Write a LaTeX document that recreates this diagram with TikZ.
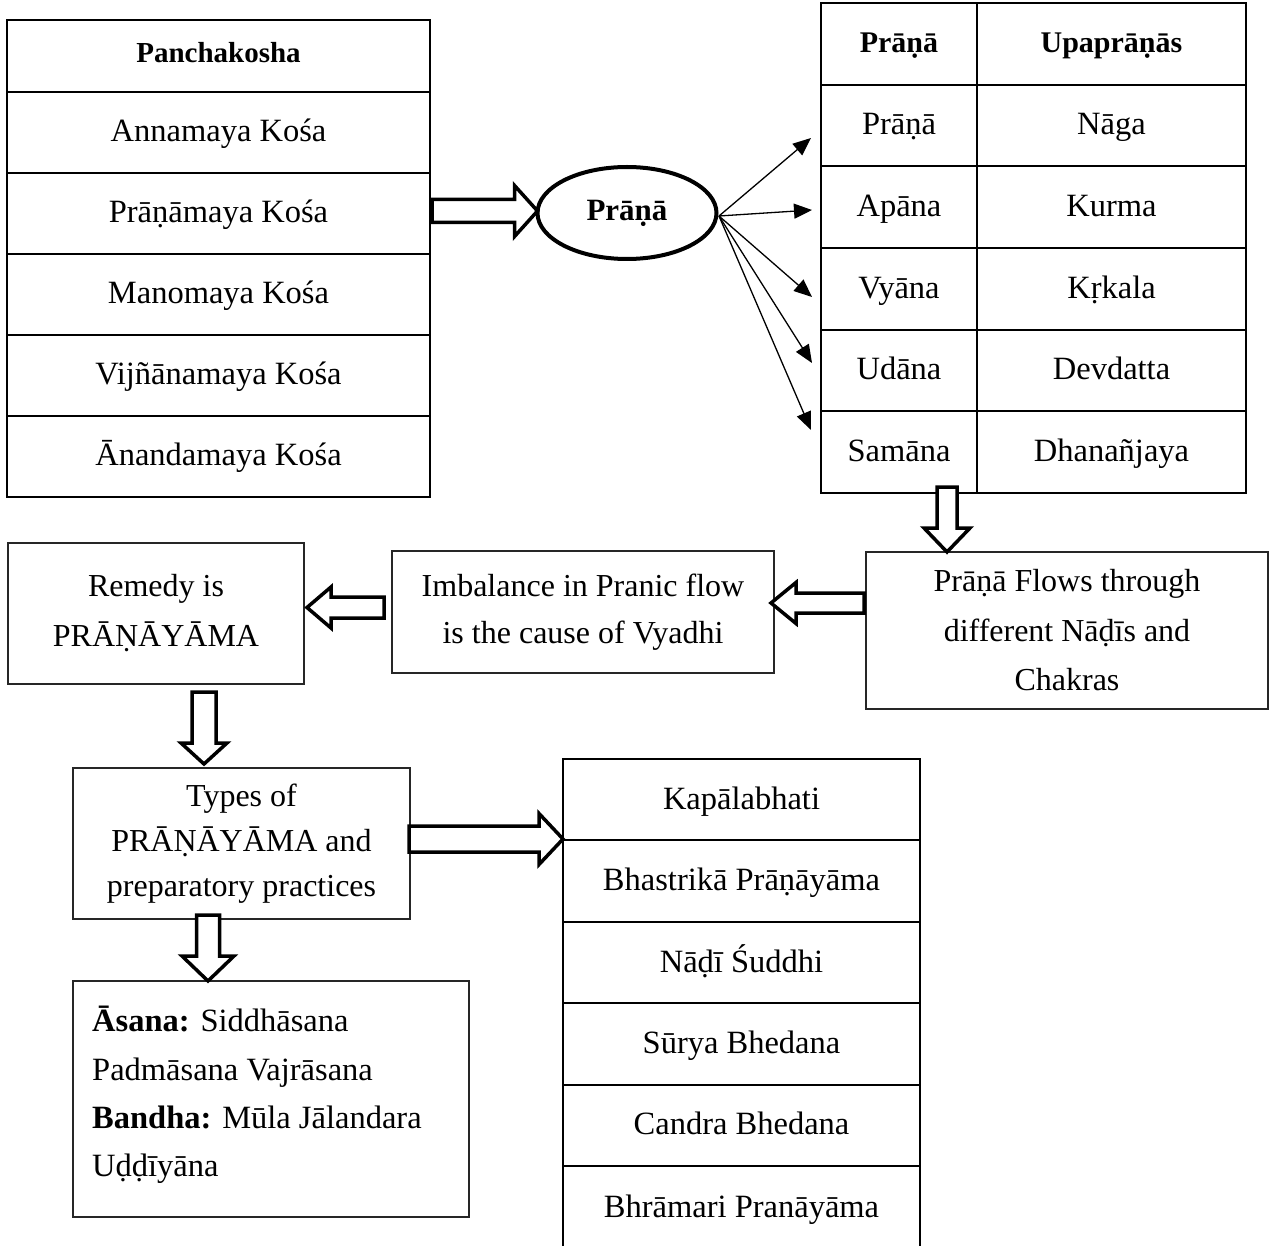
\documentclass[tikz,border=0pt]{standalone}
\usepackage{fontspec}
\setmainfont{Liberation Serif}
\usetikzlibrary{calc,arrows.meta,shapes.geometric}
\newcommand\palf{\fontsize{32.5}{38}\selectfont}
\newcommand\hdrf{\fontsize{30}{36}\selectfont\bfseries}
% block arrows: #1 tail, #2 tip, #3 shaft half width, #4 head half width, #5 head length
\newcommand\blockR[5]{\draw[blk] ($(#1)+(0,-#3)$) -- ($(#2)+(-#5,-#3)$) -- ($(#2)+(-#5,-#4)$) -- (#2) -- ($(#2)+(-#5,#4)$) -- ($(#2)+(-#5,#3)$) -- ($(#1)+(0,#3)$) -- cycle;}
\newcommand\blockL[5]{\draw[blk] ($(#1)+(0,-#3)$) -- ($(#2)+(#5,-#3)$) -- ($(#2)+(#5,-#4)$) -- (#2) -- ($(#2)+(#5,#4)$) -- ($(#2)+(#5,#3)$) -- ($(#1)+(0,#3)$) -- cycle;}
\newcommand\blockD[5]{\draw[blk] ($(#1)+(-#3,0)$) -- ($(#2)+(-#3,-#5)$) -- ($(#2)+(-#4,-#5)$) -- (#2) -- ($(#2)+(#4,-#5)$) -- ($(#2)+(#3,-#5)$) -- ($(#1)+(#3,0)$) -- cycle;}
\begin{document}
\begin{tikzpicture}[x=1pt,y=-1pt,
  tbl/.style={draw, line width=2pt, inner sep=0pt, outer sep=0pt, font=\palf, text height=26pt, text depth=7pt},
  box/.style={draw=black!85, line width=1.2pt, inner sep=0pt, outer sep=0pt, align=center},
  blk/.style={draw, line width=3.5pt, fill=white, line join=miter, miter limit=10},
  fan/.style={line width=1.3pt, -{Triangle[length=18pt,width=15pt]}},
  pkcell/.style={tbl, minimum width=423pt, minimum height=81pt},
  lcell/.style={tbl, minimum width=156pt, minimum height=81.67pt},
  rcell/.style={tbl, minimum width=269pt, minimum height=81.67pt},
  bcell/.style={tbl, minimum width=357pt, minimum height=81.4pt},
  hdr/.style={font=\hdrf, text height=24pt, text depth=6pt}]
\useasboundingbox (0,0) rectangle (1283,1246);

% Panchakosha table
\node[tbl, minimum width=423pt, minimum height=72pt, font=\fontsize{29}{35}\selectfont\bfseries, text height=21pt, text depth=7pt] (pk0) at (218.5,56) {Panchakosha};
\node[pkcell] (pk1) at (218.5,132.5) {Annamaya Kośa};
\node[pkcell] (pk2) at (218.5,213.5) {Prāṇāmaya Kośa};
\node[pkcell] (pk3) at (218.5,294.5) {Manomaya Kośa};
\node[pkcell] (pk4) at (218.5,375.5) {Vijñānamaya Kośa};
\node[pkcell] (pk5) at (218.5,456.5) {Ānandamaya Kośa};

% Ellipse
\node[ellipse, draw, line width=4pt, minimum width=179pt, minimum height=92pt, inner sep=0pt, outer sep=0pt, font=\fontsize{31}{36}\selectfont\bfseries] (el) at (627,213) {Prāṇā};

% Right table
\node[lcell, hdr] (ra0) at (899,43.8) {Prāṇā};
\node[rcell, hdr] (rb0) at (1111.5,43.8) {Upaprāṇās};
\node[lcell] (ra1) at (899,125.5) {Prāṇā};
\node[rcell] (rb1) at (1111.5,125.5) {Nāga};
\node[lcell] (ra2) at (899,207.2) {Apāna};
\node[rcell] (rb2) at (1111.5,207.2) {Kurma};
\node[lcell] (ra3) at (899,288.8) {Vyāna};
\node[rcell] (rb3) at (1111.5,288.8) {Kṛkala};
\node[lcell] (ra4) at (899,370.5) {Udāna};
\node[rcell] (rb4) at (1111.5,370.5) {Devdatta};
\node[lcell] (ra5) at (899,452.2) {Samāna};
\node[rcell] (rb5) at (1111.5,452.2) {Dhanañjaya};

% Middle row boxes
\node[box, line width=1.5pt, minimum width=296pt, minimum height=141pt, font=\fontsize{32}{50}\selectfont] (rem) at (156,613.5) {Remedy is\\PRĀṆĀYĀMA};
\node[box, minimum width=382pt, minimum height=122pt, font=\fontsize{32}{47}\selectfont] (im) at (583,612) {Imbalance in Pranic flow\\is the cause of Vyadhi};
\node[box, minimum width=402pt, minimum height=157pt, font=\fontsize{32}{49.5}\selectfont] (pf) at (1067,630.5) {Prāṇā Flows through\\different Nāḍīs and\\Chakras};

% Types box
\node[box, minimum width=337pt, minimum height=151pt, font=\fontsize{32}{45}\selectfont] (ty) at (241.5,843.5) {Types of\\PRĀṆĀYĀMA and\\preparatory practices};

% Asana box
\node[box, minimum width=396pt, minimum height=236pt] (as) at (271,1099) {};
\node[anchor=west, inner sep=0pt, align=flush left, font=\fontsize{32.5}{48.3}\selectfont] (ast) at ($(as.west)+(19,-4)$) {\textbf{Āsana:} Siddhāsana\\Padmāsana Vajrāsana\\\textbf{Bandha:} Mūla Jālandara\\Uḍḍīyāna};

% Bottom table
\node[bcell] (b1) at (741.5,799.7) {Kapālabhati};
\node[bcell] (b2) at (741.5,881.1) {Bhastrikā Prāṇāyāma};
\node[bcell] (b3) at (741.5,962.5) {Nāḍī Śuddhi};
\node[bcell] (b4) at (741.5,1043.9) {Sūrya Bhedana};
\node[bcell] (b5) at (741.5,1125.3) {Candra Bhedana};
\node[tbl, draw=none, minimum width=357pt, minimum height=84pt] (b6) at (741.5,1208) {Bhrāmari Pranāyāma};
\draw[line width=2pt] (b6.south west) -- (b6.north west);
\draw[line width=2pt] (b6.south east) -- (b6.north east);

% Fan arrows
\coordinate (fo) at ($(el.east)+(2.5,3)$);
\coordinate (t1) at (811,138);
\coordinate (t2) at (812,210);
\coordinate (t3) at (812,297);
\coordinate (t4) at (812,363);
\coordinate (t5) at (811,430);
\foreach \t in {t1,t2,t3,t4,t5} \draw[fan] (fo) -- (\t);

% Block arrows
\coordinate (a1s) at ($(pk2.east)+(2,-2.5)$);
\coordinate (a1e) at (a1s -| el.west);
\blockR{a1s}{a1e}{11.5}{25.5}{23}

\coordinate (a2s) at ($(ra5.south east)+(-30,-6)$);
\coordinate (a2e) at (a2s |- pf.north);
\blockD{a2s}{a2e}{10}{23}{24}

\coordinate (a4s) at ($(pf.west)+(-2,-27.5)$);
\coordinate (a4e) at ($(a4s -| im.east)+(-3,0)$);
\blockL{a4s}{a4e}{10}{20.5}{25}

\coordinate (a3s) at ($(im.west)+(-8,-4.5)$);
\coordinate (a3e) at ($(a3s -| rem.east)+(3,0)$);
\blockL{a3s}{a3e}{10.5}{20.5}{24}

\coordinate (a5s) at ($(rem.south)+(48,8)$);
\coordinate (a5e) at ($(a5s |- ty.north)+(0,-4)$);
\blockD{a5s}{a5e}{12}{23}{21}

\coordinate (a6s) at ($(ty.east)+(-1,-4.5)$);
\coordinate (a6e) at (a6s -| b1.west);
\blockR{a6s}{a6e}{13}{25.5}{24}

\coordinate (a7s) at ($(ty.south)+(-33.5,-4)$);
\coordinate (a7e) at (a7s |- as.north);
\blockD{a7s}{a7e}{11.5}{26}{25}
\end{tikzpicture}
\end{document}
